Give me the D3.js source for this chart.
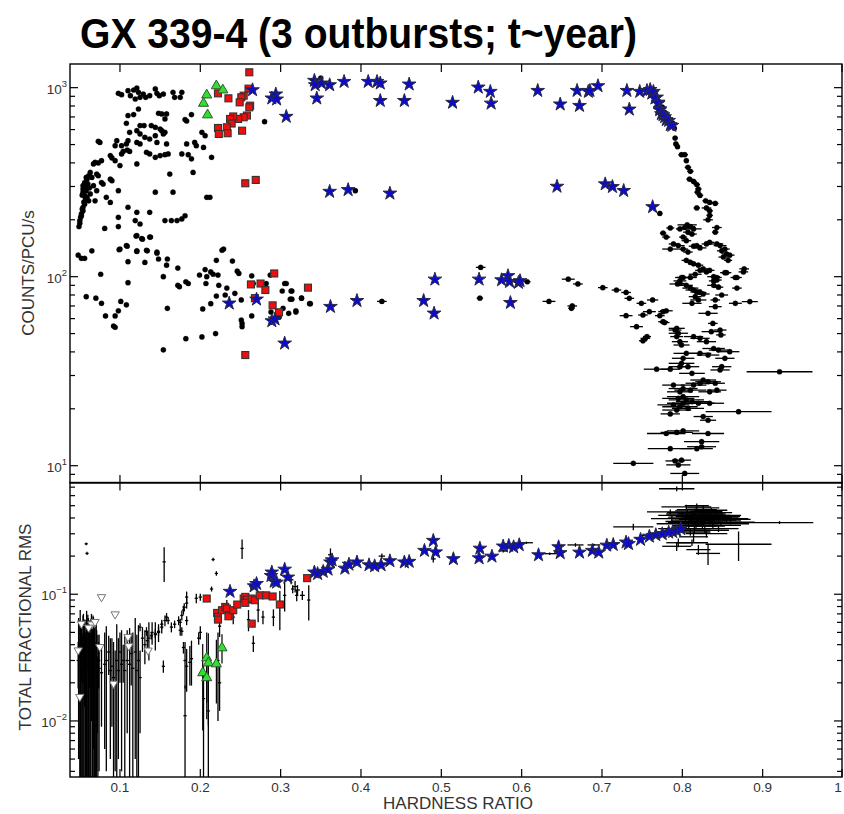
<!DOCTYPE html>
<html><head><meta charset="utf-8">
<script src="https://cdn.jsdelivr.net/npm/d3@7"></script>
<style>body{margin:0;background:#fff}svg{display:block}</style>
</head><body><svg id="c" width="844" height="814"></svg>
<script>
const titleText = "GX 339-4 (3 outbursts; t~year)";
const xTicks = [0.1,0.2,0.3,0.4,0.5,0.6,0.7,0.8,0.9,1.0];
const xTickLabels = ["0.1","0.2","0.3","0.4","0.5","0.6","0.7","0.8","0.9","1"];
const topDecades = [1,2,3];
const botDecades = [-2,-1];

// ---- TOP PANEL: counts vs hardness ----
// soft black points [HR, counts]
const topBlackSoft = [
[0.098,933],[0.102,918],[0.110,964],[0.113,907],[0.117,972],[0.121,996],[0.123,945],[0.125,889],[0.119,871],[0.129,925],[0.132,889],[0.137,907],[0.144,985],[0.146,933],[0.149,907],[0.154,925],[0.166,945],[0.168,889],[0.177,945],[0.175,889],
[0.123,771],[0.110,712],[0.117,720],[0.148,732],[0.152,726],[0.158,726],[0.156,683],[0.189,720],[0.181,678],[0.183,666],[0.108,648],
[0.125,630],[0.130,630],[0.139,630],[0.144,617],[0.150,604],[0.152,592],[0.156,580],[0.154,569],[0.121,592],[0.125,569],[0.112,580],[0.144,557],[0.202,580],[0.206,557],
[0.073,520],[0.075,513],[0.096,524],[0.094,493],[0.102,493],[0.108,504],[0.110,524],[0.121,513],[0.125,504],[0.131,546],[0.137,535],[0.146,513],[0.158,504],[0.183,504],[0.193,513],[0.195,493],[0.204,483],[0.214,428],
[0.102,446],[0.104,460],[0.109,468],[0.112,460],[0.133,455],[0.137,446],[0.144,428],[0.150,437],[0.156,442],[0.160,446],[0.177,446],[0.185,442],[0.189,420],[0.088,437],[0.090,425],[0.094,411],[0.100,387],[0.121,395],[0.077,411],[0.073,400],[0.067,395],[0.069,403],
[0.063,356],[0.061,342],[0.059,328],[0.056,315],[0.054,303],[0.054,291],[0.054,280],[0.056,269],[0.059,263],[0.061,252],[0.056,242],[0.054,233],[0.054,223],[0.052,215],[0.051,206],[0.050,198],[0.049,184],
[0.058,335],[0.057,300],[0.055,288],[0.053,270],[0.057,258],[0.055,248],[0.053,228],[0.052,210],[0.050,192],[0.060,310],[0.062,295],[0.058,285],
[0.071,349],[0.073,342],[0.065,335],[0.077,315],[0.079,309],[0.088,328],[0.090,322],[0.067,303],[0.071,285],[0.063,274],[0.069,252],[0.083,263],[0.088,247],[0.098,285],[0.144,280],[0.166,280],[0.162,349],[0.191,356],[0.208,263],[0.212,263],[0.110,233],[0.121,219],[0.098,206],[0.137,219],[0.156,198],[0.164,198],[0.171,198],[0.177,202],[0.181,210],[0.081,180],[0.098,184],[0.119,198],[0.125,190],[0.121,165],[0.127,159],[0.137,162],[0.100,140],[0.108,146],[0.121,137],[0.133,138],[0.146,135],[0.229,140],[0.280,661],
[0.048,130],[0.052,125],[0.056,125],[0.065,137],[0.076,103],[0.099,139],[0.109,145],[0.110,120],[0.110,93],[0.120,164],[0.121,136],[0.128,158],[0.131,119],[0.134,137],[0.138,162],[0.146,133],[0.148,124],[0.154,100],[0.158,115],[0.159,124],[0.172,111],[0.174,88.5],[0.172,90],[0.182,94],[0.185,92],[0.199,102],[0.206,109],[0.208,100],[0.207,92],[0.213,106],[0.216,103],[0.220,122],[0.222,102],[0.223,90],[0.227,138],[0.233,87],[0.240,121],[0.246,107],[0.248,104],[0.243,81.6],[0.251,75.3],[0.264,101],[0.266,92],[0.282,92],[0.287,102],[0.305,92],[0.307,92],[0.302,84],[0.313,84],[0.312,76],[0.326,77],[0.336,72],
[0.058,78.4],[0.070,77],[0.077,72.3],[0.082,62],[0.094,62],[0.098,66],[0.101,74],[0.108,71],[0.092,54.8],[0.094,54],[0.159,68],[0.182,47],[0.202,48],[0.219,50],[0.154,41],[0.203,67.5],[0.213,72],[0.220,79],[0.231,80],[0.251,59],[0.252,56.6],[0.252,54.4],[0.264,62],[0.288,65],[0.290,59.5],[0.303,68],[0.310,64],[0.319,66],[0.298,61],
[0.314,84],[0.314,76],[0.319,65],[0.326,77],[0.337,72],[0.350,1125]
];
// hard black points [HR, counts, HR error]
const topBlackHard = [
[0.393,285,0.003],[0.426,74,0.006],[0.549,112,0.006],[0.548,77,0.004],[0.607,94,0.004],[0.658,97,0.008],[0.670,91.5,0.006],[0.634,74,0.008],[0.663,70,0.006],[0.662,68,0.004],[0.701,87.5,0.006],
[0.765,900,0.003],[0.770,850,0.003],[0.775,790,0.003],[0.778,740,0.003],[0.783,690,0.003],[0.788,650,0.003],[0.790,610,0.003],
[0.791,541,0.003],[0.792,504,0.003],[0.794,487,0.003],[0.799,442,0.004],[0.803,442,0.004],[0.805,411,0.003],[0.807,379,0.004],[0.810,361,0.004],[0.809,328,0.004],[0.814,319,0.004],[0.818,307,0.004],[0.820,291,0.004],[0.819,280,0.004],[0.822,269,0.004],[0.829,252,0.004],[0.834,247,0.004],[0.841,244,0.004],[0.818,231,0.004],[0.830,231,0.006],[0.834,223,0.004],[0.832,200,0.006],[0.834,211,0.004],[0.843,182,0.006],[0.841,172,0.004],[0.772,216,0.003],
[0.785,181,0.005],[0.776,170,0.004],[0.797,179,0.005],[0.803,182,0.006],[0.806,188,0.012],[0.810,184,0.006],[0.814,179,0.010],[0.807,172,0.006],[0.812,168,0.006],[0.801,162,0.005],[0.805,155,0.006],[0.780,162,0.005],[0.789,149,0.006],[0.795,146,0.008],[0.785,140,0.010],[0.801,140,0.006],[0.807,135,0.006],[0.814,145,0.006],[0.818,146,0.006],[0.822,142,0.008],[0.830,149,0.006],[0.834,152,0.006],[0.843,149,0.008],[0.847,146,0.008],[0.849,137,0.006],[0.853,140,0.006],[0.855,132,0.006],[0.851,127,0.006],[0.857,122,0.005],[0.859,130,0.006],[0.805,122,0.006],[0.810,119,0.006],[0.814,117,0.006],[0.820,115,0.006],[0.822,108,0.006],[0.826,110,0.006],[0.834,108,0.006],[0.816,103,0.008],[0.810,99,0.008],[0.801,99,0.008],[0.797,95,0.008],[0.853,105,0.006],[0.866,99,0.006],[0.877,110,0.006],[0.839,95,0.006],[0.843,99,0.006],
[0.718,85,0.006],[0.730,82.5,0.006],[0.734,76.8,0.006],[0.749,72.3,0.006],[0.763,75.3,0.007],[0.759,65.3,0.008],[0.751,62.7,0.006],[0.730,62.2,0.008],[0.743,54.4,0.008],[0.776,65.3,0.006],[0.780,66,0.008],[0.772,62.2,0.006],[0.776,57.8,0.006],[0.778,57.2,0.006],[0.754,47.2,0.006],[0.756,48.2,0.005],[0.751,45.8,0.005],
[0.799,99,0.008],[0.797,92,0.006],[0.794,91.5,0.01],[0.805,90,0.008],[0.810,87,0.01],[0.814,85,0.01],[0.818,83,0.008],[0.822,82.5,0.008],[0.826,81,0.008],[0.816,78.4,0.008],[0.820,75.3,0.01],[0.812,72.3,0.012],[0.830,106,0.006],[0.839,100,0.008],[0.843,96,0.006],[0.839,90,0.008],[0.845,88,0.006],[0.868,87,0.006],[0.855,105,0.006],[0.868,99,0.006],[0.876,106,0.006],[0.849,80,0.008],[0.841,75.3,0.006],[0.866,72.3,0.008],[0.884,73.8,0.01],[0.841,69.4,0.008],[0.832,64,0.012],[0.838,56.6,0.006],[0.836,51.2,0.012],[0.847,52.2,0.008],[0.848,49.2,0.006],[0.793,53.3,0.01],[0.795,50.2,0.012],[0.791,52.2,0.008],[0.793,48.2,0.008],[0.797,45.3,0.01],[0.799,43.5,0.01],[0.814,48.2,0.012],[0.822,47.2,0.012],[0.830,45.3,0.012],[0.839,41.7,0.014],[0.845,40.9,0.012],[0.859,40.1,0.012],[0.822,39.3,0.014],[0.832,38.5,0.014],[0.853,37,0.012],[0.805,39.3,0.016],[0.801,37,0.014],[0.799,34.8,0.016],[0.797,33.4,0.014],[0.768,32.4,0.016],[0.785,32.4,0.012],[0.807,33.4,0.014],[0.849,33.4,0.012],[0.847,32.1,0.012],[0.812,30.8,0.016],[0.921,31.4,0.041],[0.826,28.4,0.016],[0.832,27.8,0.016],[0.841,27.3,0.012],[0.822,27.3,0.018],[0.814,26.7,0.016],[0.789,26.7,0.014],[0.801,25.6,0.018],[0.797,24.6,0.016],[0.810,25.1,0.02],[0.834,24.6,0.014],[0.843,25.1,0.012],[0.801,23.2,0.02],[0.795,22.7,0.02],[0.805,22.3,0.022],[0.812,21.8,0.02],[0.820,21.4,0.02],[0.834,21.4,0.018],[0.801,21.4,0.02],[0.797,20.5,0.022],[0.789,21,0.02],[0.807,20.1,0.02],[0.793,19.7,0.018],[0.785,18.8,0.012],[0.870,19.3,0.041],[0.826,18.2,0.012],[0.832,17.4,0.01],[0.780,14.8,0.024],[0.793,15,0.02],[0.801,15.3,0.02],[0.832,14.8,0.02],[0.824,13.4,0.022],[0.818,12.3,0.02],[0.824,12.6,0.018],[0.785,12.3,0.028],[0.739,10.3,0.025],[0.791,10.6,0.012],[0.799,10.7,0.012],[0.795,10.1,0.015],[0.803,9.1,0.018]
];
const topStars = [
[0.307,703],[0.265,972],[0.289,879],[0.294,923],[0.295,868],[0.236,72.3],[0.270,75.9],[0.289,58.3],[0.293,59.6],[0.305,44.4],
[0.342,1090],[0.343,1033],[0.351,1055],[0.361,1033],[0.345,879],[0.379,1076],[0.409,1076],[0.420,1076],[0.424,1055],[0.424,853],[0.454,853],[0.460,1042],[0.514,834],[0.546,1004],[0.561,953],[0.562,826],[0.620,964],[0.648,817],[0.669,964],[0.672,803],[0.683,953],
[0.361,282],[0.384,288],[0.436,276],[0.644,300],
[0.362,69.4],[0.395,74.6],[0.478,74.6],[0.491,64],[0.492,96.8],[0.547,96.8],[0.575,96],[0.583,101],[0.585,94],[0.596,93],[0.598,95],[0.586,72.8],
[0.685,964],[0.695,1021],[0.731,964],[0.747,953],[0.734,768],[0.756,964],[0.760,975],[0.762,933],[0.764,953],[0.768,889],[0.766,879],[0.770,836],[0.770,826],[0.772,771],[0.772,762],[0.774,726],[0.776,717],[0.778,700],[0.780,675],[0.783,669],[0.785,635],[0.787,630],
[0.704,309],[0.713,299],[0.727,285],[0.763,234]
];
const topSquares = [
[0.261,1206],[0.260,988],[0.254,907],[0.251,889],[0.249,836],[0.262,803],[0.261,787],[0.235,878],[0.222,933],[0.258,712],[0.254,697],[0.247,683],[0.241,704],[0.237,683],[0.239,646],[0.233,617],[0.222,612],[0.223,569],[0.234,574],[0.252,592],[0.256,312],[0.269,325],
[0.263,91],[0.275,92],[0.281,85],[0.292,104],[0.290,70.5],[0.298,64.8],[0.268,77],[0.334,87.5],[0.256,38.5]
];
const topTriangles = [[0.220,1035],[0.228,984],[0.208,925],[0.204,836],[0.209,726]];

// ---- BOTTOM PANEL: rms vs hardness ----
// crosses [HR, rms, HR error, rms error]
const botCrosses = [
[0.048,0.030,0.002,0.012],[0.050,0.032,0.002,0.030],[0.051,0.028,0.002,0.026],[0.052,0.040,0.002,0.020],[0.053,0.025,0.002,0.024],[0.054,0.035,0.002,0.033],[0.055,0.030,0.002,0.028],[0.056,0.038,0.002,0.025],[0.057,0.026,0.002,0.024],[0.058,0.045,0.002,0.015],[0.059,0.030,0.002,0.029],[0.060,0.035,0.002,0.034],[0.061,0.028,0.002,0.026],[0.062,0.040,0.002,0.022],[0.063,0.025,0.002,0.024],[0.064,0.033,0.002,0.031],[0.065,0.030,0.002,0.020],[0.066,0.027,0.002,0.026],[0.067,0.036,0.002,0.030],[0.068,0.024,0.002,0.022],[0.069,0.030,0.002,0.029],[0.070,0.022,0.002,0.020],[0.071,0.028,0.002,0.024],[0.072,0.020,0.002,0.012],[0.074,0.026,0.002,0.022],
[0.0485,0.035,0.002,0.030],[0.0505,0.040,0.002,0.035],[0.0525,0.030,0.002,0.028],[0.0545,0.045,0.002,0.025],[0.0565,0.032,0.002,0.031],[0.0585,0.038,0.002,0.036],[0.0605,0.045,0.002,0.020],[0.0625,0.030,0.002,0.029],[0.0645,0.040,0.002,0.030],[0.0665,0.035,0.002,0.033],[0.0685,0.028,0.002,0.026],[0.0705,0.032,0.002,0.030],[0.0725,0.025,0.002,0.023],[0.0735,0.030,0.002,0.012],
[0.058,0.25,0.002,0.006],[0.059,0.21,0.002,0.006],
[0.077,0.024,0.002,0.015],[0.081,0.028,0.002,0.022],[0.083,0.030,0.002,0.026],[0.086,0.035,0.002,0.012],[0.088,0.025,0.002,0.020],[0.090,0.027,0.002,0.018],[0.092,0.022,0.002,0.020],[0.094,0.020,0.002,0.016],[0.096,0.030,0.002,0.028],[0.098,0.025,0.002,0.020],[0.100,0.035,0.002,0.015],[0.102,0.028,0.002,0.024],[0.104,0.030,0.002,0.010],[0.106,0.025,0.002,0.022],[0.109,0.030,0.002,0.022],[0.112,0.028,0.002,0.026],[0.114,0.034,0.002,0.015],[0.116,0.026,0.002,0.024],[0.119,0.035,0.002,0.030],[0.121,0.025,0.002,0.023],[0.123,0.030,0.002,0.027],[0.125,0.022,0.002,0.014],
[0.128,0.045,0.002,0.010],[0.131,0.040,0.002,0.012],[0.134,0.043,0.002,0.008],[0.136,0.045,0.002,0.015],[0.140,0.050,0.002,0.010],[0.144,0.048,0.002,0.012],[0.148,0.050,0.002,0.008],[0.152,0.055,0.002,0.006],
[0.125,0.055,0.002,0.004],[0.133,0.051,0.002,0.004],[0.139,0.047,0.002,0.003],[0.144,0.049,0.002,0.004],[0.148,0.051,0.002,0.004],[0.152,0.058,0.002,0.005],[0.156,0.062,0.002,0.006],[0.158,0.066,0.002,0.005],[0.160,0.062,0.002,0.004],[0.164,0.055,0.002,0.005],[0.168,0.058,0.002,0.004],[0.173,0.062,0.002,0.005],[0.177,0.068,0.002,0.006],[0.179,0.075,0.002,0.006],[0.183,0.085,0.002,0.008],[0.180,0.079,0.002,0.006],[0.177,0.051,0.002,0.004],[0.183,0.062,0.002,0.005],[0.175,0.060,0.002,0.004],[0.195,0.093,0.002,0.008],[0.200,0.095,0.002,0.006],
[0.155,0.180,0.002,0.055],
[0.181,0.030,0.002,0.012],[0.183,0.027,0.002,0.010],[0.187,0.029,0.002,0.010],[0.189,0.031,0.002,0.012],[0.181,0.011,0.002,0.008],[0.179,0.038,0.002,0.004],[0.154,0.027,0.002,0.003],
[0.362,0.205,0.003,0.025],[0.426,0.200,0.004,0.010],[0.490,0.190,0.003,0.012],[0.606,0.255,0.008,0.005],[0.635,0.209,0.012,0.005],[0.667,0.245,0.010,0.008],[0.690,0.245,0.008,0.005],[0.577,0.220,0.006,0.006],
[0.335,0.090,0.002,0.028],[0.313,0.130,0.003,0.010],[0.318,0.115,0.003,0.012],[0.321,0.108,0.003,0.010],[0.327,0.098,0.003,0.008],[0.320,0.098,0.002,0.010],[0.315,0.110,0.002,0.008],[0.305,0.098,0.002,0.025],[0.299,0.079,0.002,0.027],[0.291,0.066,0.002,0.010],[0.278,0.066,0.002,0.008],[0.272,0.075,0.002,0.015],[0.266,0.041,0.002,0.006],[0.263,0.115,0.002,0.006],[0.260,0.063,0.002,0.012],[0.252,0.230,0.002,0.040],[0.241,0.066,0.002,0.008],[0.233,0.084,0.002,0.006],[0.224,0.056,0.002,0.010],[0.222,0.030,0.002,0.020],[0.224,0.020,0.002,0.008],[0.216,0.188,0.002,0.006],[0.220,0.146,0.002,0.006],[0.214,0.110,0.002,0.005],[0.204,0.015,0.002,0.012],[0.210,0.012,0.002,0.010],[0.200,0.050,0.002,0.006],[0.198,0.045,0.002,0.005],[0.175,0.052,0.002,0.005],[0.183,0.095,0.002,0.010],
[0.739,0.340,0.025,0.020],[0.785,0.447,0.029,0.020],[0.787,0.395,0.026,0.020],[0.793,0.680,0.022,0.030],[0.921,0.368,0.042,0.010],[0.870,0.248,0.041,0.065],[0.832,0.210,0.015,0.040],[0.793,0.239,0.018,0.020],[0.814,0.284,0.018,0.025],[0.830,0.301,0.026,0.020],[0.805,0.489,0.031,0.020],[0.818,0.466,0.025,0.020],[0.800,0.420,0.030,0.020],[0.810,0.400,0.028,0.030],[0.815,0.430,0.035,0.020],[0.822,0.410,0.030,0.020],[0.828,0.390,0.032,0.020],[0.835,0.420,0.025,0.020],[0.840,0.400,0.030,0.020],[0.845,0.380,0.028,0.020],[0.850,0.410,0.022,0.020],[0.855,0.390,0.030,0.020],[0.812,0.370,0.030,0.020],[0.820,0.360,0.025,0.020],[0.808,0.350,0.020,0.020],[0.798,0.360,0.030,0.020],[0.825,0.345,0.028,0.020],[0.838,0.350,0.035,0.020],[0.848,0.360,0.035,0.015],[0.860,0.370,0.030,0.015],[0.830,0.450,0.020,0.020],[0.842,0.440,0.020,0.020],[0.818,0.500,0.015,0.020],[0.826,0.480,0.020,0.020],[0.802,0.330,0.020,0.020],[0.815,0.320,0.020,0.020],[0.790,0.330,0.020,0.015],[0.780,0.310,0.015,0.015],[0.770,0.300,0.015,0.015],[0.760,0.290,0.012,0.015],[0.750,0.280,0.010,0.015],[0.810,0.310,0.025,0.020],[0.828,0.320,0.030,0.020],[0.845,0.330,0.025,0.020],[0.795,0.255,0.015,0.020],[0.812,0.255,0.020,0.015],[0.820,0.225,0.015,0.020],
[0.806,0.440,0.025,0.025],[0.813,0.415,0.030,0.025],[0.819,0.395,0.028,0.025],[0.824,0.430,0.030,0.020],[0.832,0.405,0.030,0.025],[0.837,0.385,0.030,0.020],[0.843,0.420,0.030,0.020],[0.811,0.385,0.025,0.025],[0.804,0.375,0.025,0.020],[0.826,0.370,0.025,0.025],[0.834,0.365,0.030,0.020],[0.817,0.345,0.025,0.020],[0.852,0.395,0.030,0.020],[0.816,0.455,0.025,0.020],[0.836,0.460,0.020,0.020]
];
const botStars = [
[0.237,0.105],[0.267,0.116],[0.270,0.121],[0.288,0.140],[0.292,0.126],[0.295,0.124],[0.305,0.157],[0.309,0.136],[0.289,0.149],[0.342,0.149],[0.346,0.145],[0.353,0.151],[0.359,0.157],[0.362,0.179],[0.364,0.186],[0.380,0.160],[0.385,0.172],[0.395,0.179],[0.410,0.170],[0.417,0.167],[0.425,0.170],[0.436,0.183],[0.454,0.179],[0.460,0.181],[0.479,0.221],[0.490,0.265],[0.493,0.215],[0.515,0.190],[0.548,0.230],[0.547,0.193],[0.563,0.199],[0.577,0.239],[0.584,0.242],[0.590,0.236],[0.597,0.245],[0.621,0.204],[0.646,0.236],[0.648,0.212],[0.672,0.214],[0.688,0.221],[0.696,0.214],[0.706,0.243],[0.714,0.246],[0.730,0.257],[0.733,0.250],[0.748,0.270],[0.759,0.286],[0.767,0.294],[0.775,0.299],[0.783,0.308],[0.788,0.311],[0.793,0.318],[0.798,0.328]
];
const botSquares = [
[0.208,0.0925],[0.221,0.0712],[0.222,0.0662],[0.222,0.0631],[0.227,0.0748],[0.231,0.0794],[0.233,0.0771],[0.237,0.0683],[0.235,0.0670],[0.241,0.0748],[0.246,0.0829],[0.254,0.0925],[0.256,0.0953],[0.258,0.0907],[0.256,0.0855],[0.264,0.0925],[0.268,0.0897],[0.274,0.0980],[0.282,0.0980],[0.290,0.0960],[0.299,0.0830],[0.264,0.0586],[0.333,0.134]
];
// green triangles [HR, rms, rms error]
const botTriangles = [[0.203,0.0244,0.016],[0.208,0.0320,0.018],[0.210,0.0292,0.020],[0.208,0.0223,0.012],[0.220,0.0287,0.015],[0.227,0.0384,0.010]];
const botUpperLimits = [[0.077,0.095],[0.094,0.0695],[0.052,0.0586],[0.065,0.058],[0.061,0.0546],[0.069,0.0605],[0.110,0.046],[0.075,0.0384],[0.048,0.0361],[0.111,0.039],[0.092,0.0197],[0.050,0.0155],[0.135,0.036]];

// ---------- drawing ----------
const svg = d3.select("#c");
svg.append("rect").attr("width",844).attr("height",814).attr("fill","#fff");
const X0=70, X1=842, TT=64, TB=483, BT=482.5, BB=777;
const x = d3.scaleLinear().domain([0.0378,1.0]).range([70,843]);
const yT = d3.scaleLog().domain([8.1,1334]).range([TB,TT]);
const yB = d3.scaleLog().domain([0.00361,0.762]).range([BB,BT]);
const defs = svg.append("defs");
defs.append("clipPath").attr("id","cT").append("rect").attr("x",X0).attr("y",TT).attr("width",X1-X0).attr("height",TB-TT);
defs.append("clipPath").attr("id","cB").append("rect").attr("x",X0).attr("y",BT).attr("width",X1-X0).attr("height",BB-BT);
const gT = svg.append("g").attr("clip-path","url(#cT)");
const gB = svg.append("g").attr("clip-path","url(#cB)");

const ink = "#333";
svg.append("text").attr("x",80).attr("y",48).attr("font-family","'Liberation Sans Narrow','Arial Narrow',Arial,sans-serif")
  .attr("font-weight","bold").attr("font-size",42).attr("textLength",557).attr("lengthAdjust","spacingAndGlyphs")
  .attr("fill","#000").text(titleText);

// top black error bars + dots
gT.append("g").selectAll("line").data(topBlackHard).join("line")
  .attr("x1",d=>x(d[0]-d[2])).attr("x2",d=>x(d[0]+d[2])).attr("y1",d=>yT(d[1])).attr("y2",d=>yT(d[1]))
  .attr("stroke","#000").attr("stroke-width",1.3);
gT.append("g").selectAll("circle").data(topBlackSoft.concat(topBlackHard)).join("circle")
  .attr("cx",d=>x(d[0])).attr("cy",d=>yT(d[1])).attr("r",2.6).attr("fill","#000").attr("stroke","rgba(0,0,0,0.3)").attr("stroke-width",0.9);

const starPath = d3.symbol(d3.symbolStar,58)();
const triPath = d3.symbol(d3.symbolTriangle,44)();
const triDown = d3.symbol(d3.symbolTriangle,30)();

function drawSquares(g, data, y){
  g.append("g").selectAll("rect").data(data).join("rect")
   .attr("x",d=>x(d[0])-3.5).attr("y",d=>y(d[1])-3.5).attr("width",7).attr("height",7)
   .attr("fill","#f20d0d").attr("stroke","#333").attr("stroke-width",1.1);
}
function drawTris(g, data, y){
  g.append("g").selectAll("path").data(data).join("path")
   .attr("d",triPath).attr("transform",d=>`translate(${x(d[0])},${y(d[1])+1})`)
   .attr("fill","#2fe02f").attr("stroke","#335533").attr("stroke-width",1);
}
function drawStars(g, data, y){
  g.append("g").selectAll("path").data(data).join("path")
   .attr("d",starPath).attr("transform",d=>`translate(${x(d[0])},${y(d[1])})`)
   .attr("fill","#0c0cc8").attr("stroke","#2a2a44").attr("stroke-width",1);
}
drawSquares(gT, topSquares, yT);
drawTris(gT, topTriangles, yT);
drawStars(gT, topStars, yT);

// bottom panel
const yBc = v => v <= 0.00361 ? BB+5 : yB(v);
gB.append("g").selectAll("line.v").data(botCrosses).join("line")
  .attr("x1",d=>x(d[0])).attr("x2",d=>x(d[0])).attr("y1",d=>yBc(d[1]-d[3])).attr("y2",d=>yBc(d[1]+d[3]))
  .attr("stroke","#000").attr("stroke-width",1.3);
gB.append("g").selectAll("line.h").data(botCrosses).join("line")
  .attr("x1",d=>x(d[0]-d[2])).attr("x2",d=>x(d[0]+d[2])).attr("y1",d=>yB(d[1])).attr("y2",d=>yB(d[1]))
  .attr("stroke","#000").attr("stroke-width",1.3);
gB.append("g").selectAll("line").data(botTriangles).join("line")
  .attr("x1",d=>x(d[0])).attr("x2",d=>x(d[0])).attr("y1",d=>yBc(d[1]-d[2])).attr("y2",d=>yBc(d[1]+d[2]))
  .attr("stroke","#000").attr("stroke-width",1.2);
gB.append("g").selectAll("path").data(botUpperLimits).join("path")
  .attr("d",triDown).attr("transform",d=>`translate(${x(d[0])},${yB(d[1])}) rotate(180)`)
  .attr("fill","#fff").attr("stroke","#777").attr("stroke-width",1);
drawSquares(gB, botSquares, yB);
drawTris(gB, botTriangles, yB);
drawStars(gB, botStars, yB);

// frames
const fr = svg.append("g").attr("fill","none").attr("stroke","#000").attr("stroke-width",1.4);
fr.append("rect").attr("x",X0).attr("y",TT).attr("width",X1-X0).attr("height",TB-TT);
fr.append("rect").attr("x",X0).attr("y",BT).attr("width",X1-X0).attr("height",BB-BT);

// x ticks
const tk = svg.append("g").attr("stroke","#000").attr("stroke-width",1.2);
xTicks.forEach(t=>{
  const px = Math.min(x(t), X1);
  [[TT,TT+8],[TB,TB-8],[BT,BT+8],[BB,BB-8]].forEach(([a,b])=>tk.append("line").attr("x1",px).attr("x2",px).attr("y1",a).attr("y2",b));
});
// y ticks
function yTicks(scale, lo, hi){
  for(let e=lo;e<=hi;e++){
    for(let m=1;m<=9;m++){
      const v=m*Math.pow(10,e);
      const [d0,d1]=scale.domain();
      if(v<d0||v>d1) continue;
      const py=scale(v), len = m===1?8:5;
      tk.append("line").attr("x1",X0).attr("x2",X0+len).attr("y1",py).attr("y2",py);
      tk.append("line").attr("x1",X1).attr("x2",X1-len).attr("y1",py).attr("y2",py);
    }
  }
}
yTicks(yT,0,3); yTicks(yB,-3,-1);

const lab = svg.append("g").attr("font-family","Arial,'Liberation Sans',sans-serif").attr("fill",ink);
xTicks.forEach((t,i)=>{
  lab.append("text").attr("x",Math.min(x(t),838)).attr("y",792).attr("text-anchor","middle").attr("font-size",13.5).text(xTickLabels[i]);
});
function decLabel(scale, e){
  const py = scale(Math.pow(10,e));
  const t = lab.append("text").attr("x",67).attr("y",py+6).attr("text-anchor","end").attr("font-size",13.5);
  t.append("tspan").text("10");
  t.append("tspan").attr("font-size",9.5).attr("dy",-7).text(e<0?"\u2212"+(-e):String(e));
}
topDecades.forEach(e=>decLabel(yT,e));
botDecades.forEach(e=>decLabel(yB,e));

lab.append("text").attr("transform","translate(34,273) rotate(-90)").attr("text-anchor","middle").attr("font-size",17).text("COUNTS/PCU/s");
lab.append("text").attr("transform","translate(31,627) rotate(-90)").attr("text-anchor","middle").attr("font-size",17).text("TOTAL FRACTIONAL RMS");
lab.append("text").attr("x",458).attr("y",809).attr("text-anchor","middle").attr("font-size",17).text("HARDNESS RATIO");
</script></body></html>
